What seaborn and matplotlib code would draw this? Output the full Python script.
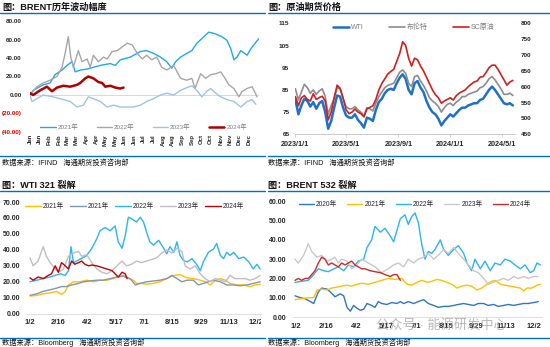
import numpy as np
import pandas as pd
import matplotlib
matplotlib.use("Agg")
import matplotlib.pyplot as plt
import seaborn as sns
from matplotlib.lines import Line2D
from matplotlib.patches import Rectangle

# ---------------- Panel 1: BRENT历年波动幅度 (day of year, %) ----------------
vol21_day = [0,5,21,32,40,51,59,67,72,80,91,101,112,128,136,144,160,176,186,197,208,218,226,232,240,250,258,266,277,285,296,306,314,320,325,330,336,346,352,360,365]
vol21 = [0,5,11,13,22,27,32,36,25,27,28,30,32,34,32,38,41,47,48,45,41,36,29,36,41,45,48,56,63,68,66,63,59,50,38,41,48,43,50,57,61]
vol22_day = [0,11,21,32,43,51,56,61,65,69,77,83,91,96,101,109,117,123,131,139,147,155,163,171,179,186,194,202,210,218,229,240,250,258,263,272,280,288,296,304,309,317,325,333,338,346,354,362]
vol22 = [0,9,13,16,20,30,45,63,41,30,48,36,39,30,43,36,41,39,47,48,52,56,54,45,39,43,38,41,30,27,32,18,16,18,7,23,18,22,23,25,20,11,7,-2,4,7,9,-2]
vol23_day = [0,3,11,21,37,48,64,75,85,93,101,112,123,133,144,155,165,176,186,197,208,218,229,240,250,258,266,274,282,288,296,304,314,325,336,346,354,360]
vol23 = [0,-7,-4,0,-2,-4,-7,-13,-11,-2,-4,-7,-13,-11,-13,-13,-13,-11,-7,-4,0,2,0,5,8,10,5,-2,4,7,2,-2,-5,-7,-13,-7,-5,-10]
vol24_day = [0,5,16,27,35,43,53,64,75,80,88,93,101,109,115,120,128,136,144,149]
vol24 = [2,0,5,9,4,8,10,9,11,13,18,20,18,14,13,9,10,8,7,8]
vol_yticks = [80, 60, 40, 20, 0, -20, -40]
vol_yticklabels = ["80.00", "60.00", "40.00", "20.00", "0.00", "(20.00)", "(40.00)"]
vol_xtick_day = [0,15,31,46,59,74,90,105,120,135,151,166,181,196,212,227,243,258,273,288,304,319,334,349]
vol_xticklabels = ["Jan","Jan","Feb","Feb","Mar","Mar","Apr","Apr","May","May","Jun","Jun",
                   "Jul","Jul","Aug","Aug","Sep","Sep","Oct","Oct","Nov","Nov","Dec","Dec"]

# ---------------- Panel 2: 原油期货价格 (weekly) ----------------
px_dates = pd.date_range("2023-01-02", periods=74, freq="7D")
wti = [80.5,74,78,81,80,77.5,79.5,76.5,79,80, 75,67.5,71,77,82.5,82,77,73.5,72.5,72.5,
       74,71.5,70,68,72.5,72,71,76,79.5,81, 83.5,85,85.5,85,88,90.5,92,90,85,83,
       88,89,86,84,80,77,75,74,72,69, 71,72.5,74,73,74.5,76,77,77,78,78.5,
       79,79,80.5,81,83,85,86.5,85,83,81, 79,78.5,79,78]
brent = [85.5,80.5,84,87.5,86,83.5,85,83,84.5,85.5, 82,74,78,81,86,85.5,81,77.5,76.5,76.5,
         77.5,76,75,73.5,77,76.5,75.5,79,82,84, 86,87,87.5,88,90.5,93,94,92.5,88,86.5,
         91,91.5,89,87,84.5,81.5,80,79,77.5,75, 77,78.5,79,78,79.5,80.5,82,82,83,83.5,
         84,84.5,86,86.5,88,90,91,89.5,87.5,85.5, 83,83,83.5,82.5]
sc = [569,540,565,572,560,555,578,560,566,570, 555,495,520,565,605,595,565,528,515,520,
      530,520,515,505,530,535,540,560,590,610, 625,640,648,655,680,705,742,730,690,665,
      690,685,665,650,630,610,590,575,565,548, 555,560,565,558,572,580,585,590,600,608,
      615,618,630,632,645,660,668,668,655,638, 622,605,615,620]
px_xticks = ["2023-01-01", "2023-05-01", "2023-09-01", "2024-01-01", "2024-05-01"]
px_xticklabels = ["2023/1/1", "2023/5/1", "2023/9/1", "2024/1/1", "2024/5/1"]

# ---------------- Panel 3: WTI 321 裂解 (day of year) ----------------
w21a_day = [0,11,21,32,42,50,56,61,69,79,90,101,111,122,132,140,148,156,164,169,177,185,196,206,217,228,238,249,259,270,278,286,294,302,310,317,328,339,349,357,365]
w21a = [11,11.5,12.5,13,14,12,14,18,20,20,21,20,21,21,22,23,24,22,21,19,19,18.5,19,20,22,24,24.5,22.5,22,21,20,18,21,22,21,19,18,18,17,18,18.5]
w21b_day = [0,11,21,32,42,50,58,66,77,85,95,106,116,127,138,148,159,167,175,185,196,206,217,225,233,241,249,259,267,275,283,291,302,312,323,333,344,354,365]
w21b = [11.5,12.5,14,15,16,17,17,18,19,20,20.5,21,21,22,23,23.5,22,18,19,20,20.5,21,22,24,22,20,21,21,18,19,20,21,20,18,18,17.5,18,19,20]
w22_day = [0,11,21,32,40,48,56,61,65,69,79,90,98,106,111,119,127,135,140,146,151,156,161,169,175,180,185,190,196,204,212,217,222,228,233,238,243,249,257,265,270,275,283,291,296,302,307,312,317,323,331,339,347,354,360,365]
w22 = [20,21,22,23,24,25,24,27,42,32, 34,36.5,41,47,52,54,52,55,45,41, 49,60.5,59.5,57.5,60.5,57.5,51,45,43,46,
       41,37.5,42,38.5,45,36.5,33.5,32.5,34.5,30.5, 27,32.5,38.5,40.5,44,36.5,34.5,38.5,36.5,38.5, 34.5,35.5,32.5,28,31,28]
w23_day = [0,5,13,19,21,26,32,40,45,53,61,69,77,82,90,98,106,114,122,130,138,146,153,161,169,177,185,193,201,209,217,225,233,241,246,254,262,270,278,286,294,302,310,317,325,333,341,349,357,365]
w23 = [35,30,33,40,42,36,32,28,26,28,36,38,39,36,37,32,28,26,25,27,30,33,30,31,33,32,33,34,35,38,40,38,41,39,30,28,30,25,22,20,22,21,20,24,22,22,22,21,22,24]
w24_day = [0,5,13,21,29,34,40,45,50,56,61,66,71,77,82,87,93,98,106,114,122,130,135,140,146,151,154]
w24 = [22.5,21,23,22,24,25,30,26,32,30,28,33,31,32,33,31,30,30.5,30,29,28,27,25,23,26,25,22]

# ---------------- Panel 4: BRENT 532 裂解 (day of year) ----------------
b20_day = [-1,7,14,22,27,34,39,47,52,59,67,72,77,82,87,92,97,102,107,114,119,124,129,137,144,152,157,162,169,177,184,192,199,207,214,222,229,237,244,252,259,267,274,282,289,297,304,312,319,327,334,342,349,357,364]
b20 = [11,10,9.5,8,7,13,15,14.5,13,10.5, 12,11,5,3,6,4.5,3.5,4,7,6, 5,8,7,6.5,7.5,7,8,7,8,7,
       8,9,7,6,5,5.5,5.5,6,6.5,7, 6.5,6,7,7,6,6.5,5.5,6,6.5,6, 6.5,7,7,7.5,8]
b21_day = [-1,9,19,27,32,39,47,54,62,69,77,84,92,99,109,119,129,139,149,159,167,174,182,189,197,204,212,219,227,234,242,249,257,264,272,279,287,294,299,307,314,322,329,337,342,347,354,362,367]
b21 = [9,9.5,10,10,14,14.5,14,15,15.5,16,16.5,16,17,17.5,17,18,19,20,19.5,20,17,16.5,18,19,18,18.5,19.5,19,18,17,15,16,16.5,16,14,15,17,18.5,19,17,16.5,16,15.5,15,13.5,15,15,16.5,17]
b22_day = [-1,9,19,27,34,42,49,57,64,72,79,87,94,102,107,114,119,127,134,142,147,152,157,164,169,174,179,184,189,194,199,204,209,217,222,229,237,244,252,257,264,269,277,284,292,299,307,314,322,329,337,344,352,357,362,367]
b22 = [18,18.5,19,22,25,24,23.5,25,26,24, 27,26,29,30,36,40,47,44,46,42, 39,45,51,53,48,52,54,49,38,30,
       34,33,35,40,35,32,35,37,33,28, 24,30,25,29,24,28,27,30,29,27, 25,27,23,24,28,27]
b23_day = [-1,4,12,19,24,32,39,47,54,59,64,69,77,84,92,99,109,119,129,139,147,154,162,169,177,184,192,199,207,214,222,229,237,244,252,259,267,274,282,289,297,304,312,319,327,334,342,349,357,364]
b23 = [30,28,32,38,34,31,32,29,30,31,28,30,29,25,27,30,28,26,23,25,27,28,26,30,28,30,31,33,30,32,35,33,36,33,30,27,24,23,20,17,18,19,20,19,21,20,21,20,21,21]
b24_day = [-1,4,9,14,19,24,29,34,39,44,49,54,59,64,69,74,79,84,89,94,99,104,112,119,127,134,142,147,152,157]
b24 = [19,20,19,20,20,22,24,28,31,30,27,28,27,26,28,27,28,29,27,26,25,25,24,23.5,23,22,21,22,22,19]

crack_xtick_day = [0, 45, 91, 136, 181, 226, 271, 316, 361]
crack_xticklabels = ["1/2", "2/16", "4/2", "5/17", "7/1", "8/15", "9/29", "11/13", "12/28"]

# ---------------- style ----------------
sns.set_theme(style="white")
plt.rcParams['font.family'] = ['Liberation Sans', 'Noto Sans CJK SC', 'DejaVu Sans']
plt.rcParams['axes.unicode_minus'] = False

W, H = 550, 347
fig = plt.figure(figsize=(5.5, 3.47), dpi=100)
fig.patch.set_facecolor('white')
RULE = '#0070C0'
TXT = '#262626'

def add_ax(l, t, r, b):
    return fig.add_axes([l / W, 1 - b / H, (r - l) / W, (b - t) / H])

def hline(x0, x1, y, color=RULE, lw=1.0):
    fig.add_artist(Line2D([x0 / W, x1 / W], [1 - y / H, 1 - y / H],
                          transform=fig.transFigure, color=color, lw=lw))

def ftext(x, y, s, **kw):
    kw.setdefault('va', 'center')
    kw.setdefault('ha', 'left')
    fig.text(x / W, 1 - y / H, s, **kw)

def mask(x0, y0, x1, y1):
    fig.add_artist(Rectangle((x0 / W, 1 - y1 / H), (x1 - x0) / W, (y1 - y0) / H,
                             transform=fig.transFigure, facecolor='white',
                             edgecolor='none', zorder=50))

# titles, rules, footers
ftext(2, 7.5, "图：BRENT历年波动幅度", fontsize=6.6, fontweight='bold', color='#111')
ftext(268, 7.5, "图：原油期货价格", fontsize=6.6, fontweight='bold', color='#111')
ftext(2, 185, "图：WTI 321 裂解", fontsize=6.6, fontweight='bold', color='#111')
ftext(268, 185, "图：BRENT 532 裂解", fontsize=6.6, fontweight='bold', color='#111')
for x0, x1 in [(0, 265), (268, 550)]:
    hline(x0, x1, 12.5)
    hline(x0, x1, 155.5)
    hline(x0, x1, 191)
    hline(x0, x1, 337.5)
ftext(2.5, 163, "数据来源：IFIND   海通期货投资咨询部", fontsize=5.2, color='#111')
ftext(268, 163, "数据来源：IFIND   海通期货投资咨询部", fontsize=5.2, color='#111')
ftext(2.5, 342.5, "数据来源：Bloomberg   海通期货投资咨询部", fontsize=5.2, color='#111')
ftext(268, 342.5, "数据来源：Bloomberg   海通期货投资咨询部", fontsize=5.2, color='#111')

# ---------------- Panel 1 ----------------
ax1 = add_ax(30, 21, 259, 132)
ax1.axhline(0, color='#D9D9D9', lw=0.7, zorder=0)
sns.lineplot(x=vol21_day, y=vol21, ax=ax1, color='#1DA9EC', lw=1.0, label='2021年')
sns.lineplot(x=vol22_day, y=vol22, ax=ax1, color='#A6A6A6', lw=1.0, label='2022年')
sns.lineplot(x=vol23_day, y=vol23, ax=ax1, color='#9DC3E6', lw=1.0, label='2023年')
sns.lineplot(x=vol24_day, y=vol24, ax=ax1, color='#B00000', lw=1.8, label='2024年')
ax1.set_xlim(0, 365)
ax1.set_ylim(-40, 80)
ax1.set_yticks(vol_yticks)
ax1.set_yticklabels(vol_yticklabels, fontsize=4.5, fontweight='bold')
for t, v in zip(ax1.get_yticklabels(), vol_yticks):
    t.set_color('#E00000' if v < 0 else TXT)
ax1.set_xticks(vol_xtick_day)
ax1.set_xticklabels(vol_xticklabels, rotation=90, fontsize=4.3, fontweight='bold', color=TXT)
ax1.tick_params(axis='x', length=0, pad=1.5)
ax1.tick_params(axis='y', length=0, pad=6)
for s in ax1.spines.values():
    s.set_visible(False)
ax1.set_xlabel(''); ax1.set_ylabel('')
ax1.legend(loc='center', bbox_to_anchor=(0.496, 0.045), ncol=4, frameon=False,
           fontsize=4.6, handlelength=2.4, handletextpad=0.3, columnspacing=2.9,
           labelcolor='#7F7F7F')

# ---------------- Panel 2 ----------------
ax2 = add_ax(295, 23.3, 515, 134.3)
ax2b = ax2.twinx()
sns.lineplot(x=px_dates, y=wti, ax=ax2, color='#1F70C8', lw=1.8, label='WTI', legend=False)
sns.lineplot(x=px_dates, y=brent, ax=ax2, color='#8C8C8C', lw=1.2, label='布伦特', legend=False)
sns.lineplot(x=px_dates, y=sc, ax=ax2b, color='#D01F1F', lw=1.2, label='SC原油', legend=False)
ax2.set_xlim(pd.Timestamp("2023-01-01"), pd.Timestamp("2024-06-01"))
ax2.set_ylim(65, 115)
ax2b.set_ylim(450, 800)
ax2.set_yticks([65, 75, 85, 95, 105, 115])
ax2b.set_yticks([450, 500, 550, 600, 650, 700, 750, 800])
ax2.set_xticks(pd.to_datetime(px_xticks))
ax2.set_xticklabels(px_xticklabels)
for a in (ax2, ax2b):
    for s in a.spines.values():
        s.set_visible(False)
    a.set_xlabel(''); a.set_ylabel('')
ax2.spines['bottom'].set_visible(True)
ax2.spines['bottom'].set_color('#BFBFBF')
ax2.spines['bottom'].set_linewidth(0.6)
ax2.tick_params(axis='x', length=2.5, width=0.5, color='#BFBFBF', pad=2, labelsize=5.2, labelcolor=TXT, direction='out', bottom=True)
ax2.tick_params(axis='y', length=0, pad=4, labelsize=4.6, labelcolor=TXT)
ax2b.tick_params(axis='y', length=0, pad=4, labelsize=4.6, labelcolor=TXT)
for t in ax2.get_xticklabels() + ax2.get_yticklabels() + ax2b.get_yticklabels():
    t.set_fontweight('bold')
h1, l1 = ax2.get_legend_handles_labels()
h2, l2 = ax2b.get_legend_handles_labels()
ax2.legend(h1 + h2, l1 + l2, loc='center', bbox_to_anchor=(0.54, 0.965), ncol=3, frameon=False,
           fontsize=5, handlelength=2.3, handletextpad=0.3, columnspacing=3.6, labelcolor='#7F7F7F')

# ---------------- Panel 3 ----------------
ax3 = add_ax(26.85, 202, 261.4, 313.7)
sns.lineplot(x=w21a_day, y=w21a, ax=ax3, color='#FFC000', lw=1.0, label='2021年')
sns.lineplot(x=w21b_day, y=w21b, ax=ax3, color='#8497B0', lw=1.0, label='2021年')
sns.lineplot(x=w22_day, y=w22, ax=ax3, color='#2DB3F2', lw=1.0, label='2022年')
sns.lineplot(x=w23_day, y=w23, ax=ax3, color='#BFBFBF', lw=1.0, label='2023年')
sns.lineplot(x=w24_day, y=w24, ax=ax3, color='#C00000', lw=1.0, label='2024年')
ax3.set_xlim(-5, 367)
ax3.set_ylim(0, 70)
ax3.set_yticks(range(0, 71, 10))
ax3.set_yticklabels([f"{v:.2f}" for v in range(0, 71, 10)])
ax3.set_xticks(crack_xtick_day)
ax3.set_xticklabels(crack_xticklabels)
ax3.legend(loc='center', bbox_to_anchor=(0.459, 0.961), ncol=5, frameon=False,
           fontsize=4.8, handlelength=2.4, handletextpad=0.3, columnspacing=0.9, labelcolor=TXT)

# ---------------- Panel 4 ----------------
ax4 = add_ax(293, 201.3, 542.3, 317)
sns.lineplot(x=b20_day, y=b20, ax=ax4, color='#2E75C6', lw=1.0, label='2020年')
sns.lineplot(x=b21_day, y=b21, ax=ax4, color='#FFC000', lw=1.0, label='2021年')
sns.lineplot(x=b22_day, y=b22, ax=ax4, color='#2DB3F2', lw=1.0, label='2022年')
sns.lineplot(x=b23_day, y=b23, ax=ax4, color='#C8C8C8', lw=1.0, label='2023年')
sns.lineplot(x=b24_day, y=b24, ax=ax4, color='#D02828', lw=1.0, label='2024年')
ax4.set_xlim(-4, 370)
ax4.set_ylim(0, 60)
ax4.set_yticks(range(0, 61, 10))
ax4.set_yticklabels([f"{v:.2f}" for v in range(0, 61, 10)])
ax4.set_xticks(crack_xtick_day)
ax4.set_xticklabels(crack_xticklabels)
ax4.legend(loc='center', bbox_to_anchor=(0.489, 0.97), ncol=5, frameon=False,
           fontsize=4.8, handlelength=2.3, handletextpad=0.3, columnspacing=1.5, labelcolor=TXT)

for a in (ax3, ax4):
    for s in a.spines.values():
        s.set_visible(False)
    a.spines['bottom'].set_visible(True)
    a.spines['bottom'].set_color('#D9D9D9')
    a.spines['bottom'].set_linewidth(0.6)
    a.set_xlabel(''); a.set_ylabel('')
    a.tick_params(axis='x', length=0, pad=4, labelsize=5.4, labelcolor=TXT)
    a.tick_params(axis='y', length=0, pad=5, labelsize=5.0, labelcolor=TXT)
    for t in a.get_xticklabels() + a.get_yticklabels():
        t.set_fontweight('bold')

# the reference crops each panel, cutting the last date label to "12/"
mask(261.3, 318, 267.5, 332)
mask(540.8, 318, 550, 332)

# watermark
ftext(376, 325, "公众号 · 能源研发中心", fontsize=9.5, color='#9A9A9A', alpha=0.7)

fig.savefig("out.png", dpi=100, facecolor='white')
